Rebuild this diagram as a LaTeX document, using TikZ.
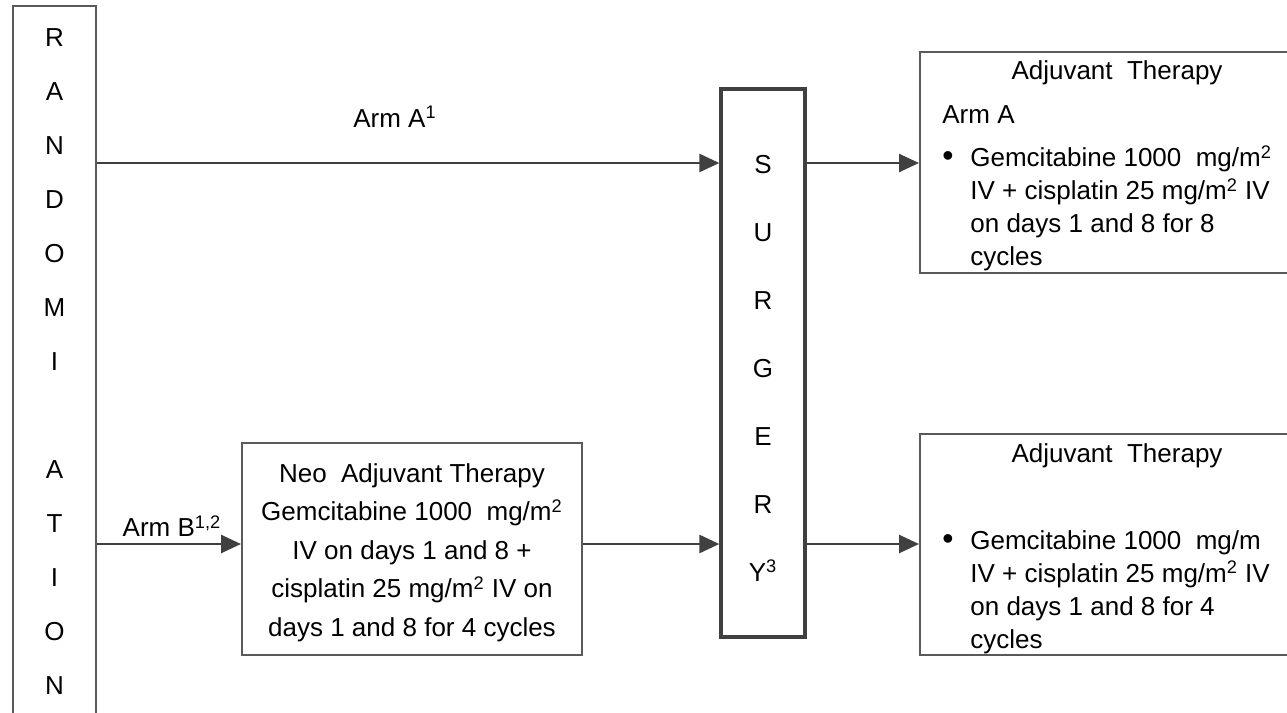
\documentclass[tikz,border=0pt]{standalone}
\usepackage{fontspec}
\setmainfont{Liberation Sans}
\usetikzlibrary{arrows.meta,positioning}

\definecolor{linegray}{HTML}{404040}
\definecolor{boxgray}{HTML}{5A5A5A}

\begin{document}
\begin{tikzpicture}[x=0.5pt,y=-0.5pt,
                  every node/.style={inner sep=0pt,font=\fontsize{13}{16.5}\selectfont},
                  box/.style={draw=boxgray,line width=1pt},
                  thickbox/.style={draw=linegray,line width=1.6pt},
                  flow/.style={draw=linegray,line width=1.3pt,-{Triangle[length=10pt,width=9pt]}},
                  stack/.style={align=center,anchor=north},
                  item/.style={align=left,anchor=north west},
                  dot/.style={font=\fontsize{16}{16}\selectfont},
            ]
            \useasboundingbox (0,0) rectangle (1287,713);

            % boxes
            \node[box,minimum width=41.5pt,minimum height=377pt] (rand) at (54.5,383) {};
            \node[thickbox,minimum width=42pt,minimum height=274pt] (surg) at (763,363) {};
            \node[box,minimum width=170pt,minimum height=106pt] (neo) at (412,549) {};
            \node[box,minimum width=197pt,minimum height=110.5pt] (adj1) at (1117,162.5) {};
            \node[box,minimum width=197pt,minimum height=110.5pt] (adj2) at (1117,544.5) {};

            % stacked letters
            \node[stack,font=\fontsize{13}{27}\selectfont] (randtxt) at (54.5,28) {R\\A\\N\\D\\O\\M\\I\\[27pt]A\\T\\I\\O\\N};
            \node[stack,font=\fontsize{13}{34}\selectfont] (surgtxt) at (763,155) {S\\U\\R\\G\\E\\R\\Y\textsuperscript{3}};

            % arms
            \coordinate (upper) at (0,163);
            \coordinate (lower) at (0,544);
            \node (arma) at (395,117) {Arm A\textsuperscript{1}};
            \node (armb) at (172,526) {Arm B\textsuperscript{1,2}};
            \draw[flow] (rand.east |- upper) -- (surg.west |- upper);
            \draw[flow] (rand.east |- lower) -- (neo.west |- lower);
            \draw[flow] (neo.east |- lower) -- (surg.west |- lower);
            \draw[flow] (surg.east |- upper) -- (adj1.west |- upper);
            \draw[flow] (surg.east |- lower) -- (adj2.west |- lower);

            % neo adjuvant
            \node[stack,font=\fontsize{13}{19.25}\selectfont] (neotxt) at (412,463) {Neo\ \ Adjuvant Therapy\\Gemcitabine 1000\ \ mg/m\textsuperscript{2}\\IV on days 1 and 8 +\\cisplatin 25 mg/m\textsuperscript{2} IV on\\days 1 and 8 for 4 cycles};

            % adjuvant, arm A
            \node (adj1title) at (1117,73) {Adjuvant\ \ Therapy};
            \node[anchor=west] (adj1arm) at (942,115) {Arm A};
            \node[dot] (adj1dot) at (948,159) {\textbullet};
            \node[item] (adj1txt) at (970,145) {Gemcitabine 1000\ \ mg/m\textsuperscript{2}\\IV + cisplatin 25 mg/m\textsuperscript{2} IV\\on days 1 and 8 for 8\\cycles};

            % adjuvant, arm B
            \node (adj2title) at (1117,456) {Adjuvant\ \ Therapy};
            \node[dot] (adj2dot) at (948,542) {\textbullet};
            \node[item] (adj2txt) at (970,530) {Gemcitabine 1000\ \ mg/m\\IV + cisplatin 25 mg/m\textsuperscript{2} IV\\on days 1 and 8 for 4\\cycles};
      \end{tikzpicture}
\end{document}
